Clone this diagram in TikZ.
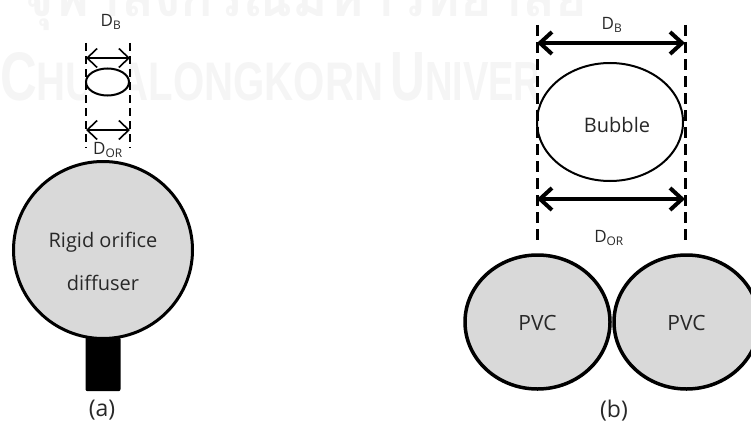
\documentclass[tikz,border=0pt]{standalone}
\usepackage{fontspec}
\setmainfont{Open Sans}
\newfontfamily\thaifont[Script=Thai]{Loma}
\newfontfamily\markfont{Liberation Sans}
\usetikzlibrary{arrows.meta, shapes.geometric, positioning}

\definecolor{pipegray}{RGB}{217,217,217}
\definecolor{inkgray}{RGB}{40,40,40}
\definecolor{markgray}{RGB}{245,245,245}

\tikzset{
  txt/.style={text=inkgray, inner sep=0pt, font=\fontsize{20}{24}\selectfont},
  pipe/.style={ellipse, draw, fill=pipegray, line width=3.5pt, inner sep=0pt},
  bubble/.style={ellipse, draw, fill=white, inner sep=0pt},
  guide/.style={dashed, dash pattern=on 11pt off 6pt},
  dim/.style={{Straight Barb[length=12pt,width=22pt]}-{Straight Barb[length=12pt,width=22pt]}},
  stamp/.style={text=markgray, inner sep=0pt, anchor=base west},
}

\begin{document}
\begin{tikzpicture}[x=1pt,y=-1pt]
\useasboundingbox (0,0) rectangle (751,428);

% faint background stamp
\node[stamp, font=\thaifont\bfseries\fontsize{60}{64}\selectfont] (stampth) at (22,17)
  {\resizebox{565pt}{!}{จุฬาลงกรณ์มหาวิทยาลัย}};
\node[stamp, font=\markfont\bfseries] (stampen) at (0,100)
  {\resizebox{383pt}{48pt}{{\fontsize{67}{70}\selectfont C}{\fontsize{53}{56}\selectfont HULALONGKORN}}};
\node[stamp, font=\markfont\bfseries] (stampen2) at (390,100)
  {\resizebox{236pt}{48pt}{{\fontsize{67}{70}\selectfont U}{\fontsize{53}{56}\selectfont NIVERSITY}}};
\fill[white] (86,40) rectangle (130,150);
\fill[white] (537,38) rectangle (685,245);

%% (a) rigid orifice diffuser
\node[pipe, line width=3pt, minimum width=179pt, minimum height=177pt] (diffuser) at (103,250) {};
\node[txt, align=center, font=\fontsize{20}{43}\selectfont] (difftxt) at ([yshift=-11pt]diffuser.center) {Rigid orifice\\diffuser};
\node[fill=black, rounded corners=2pt, minimum width=35pt, minimum height=54pt, inner sep=0pt, below=-3pt of diffuser.south] (stem) {};
\node[txt, font=\fontsize{23}{26}\selectfont] (capa) at (102,410) {(a)};

% small bubble and its guides
\node[bubble, line width=2pt, minimum width=43pt, minimum height=27pt] (smallbub) at (107.5,82) {};
\coordinate (aLtop) at (86,43);  \coordinate (aLbot) at (86,148);
\coordinate (aRtop) at (130,43); \coordinate (aRbot) at (130,148);
\draw[guide, line width=2.5pt, dash pattern=on 8pt off 5pt] (aLtop) -- (aLbot);
\draw[guide, line width=2.5pt, dash pattern=on 8pt off 5pt] (aRtop) -- (aRbot);
\coordinate (aB1) at (86,58);  \coordinate (aB2) at (130,58);
\coordinate (aO1) at (86,130); \coordinate (aO2) at (130,130);
\draw[dim, line width=1.6pt, {Straight Barb[length=10pt,width=19pt]}-{Straight Barb[length=10pt,width=19pt]}] (aB1) -- (aB2);
\draw[dim, line width=1.6pt, {Straight Barb[length=10pt,width=19pt]}-{Straight Barb[length=10pt,width=19pt]}] (aO1) -- (aO2);
\node[txt, font=\fontsize{17}{20}\selectfont] (aDB) at (111,22) {D\textsubscript{B}};
\node[txt, font=\fontsize{17}{20}\selectfont] (aDOR) at (108,150) {D\textsubscript{OR}};

%% (b) two PVC pipes
\node[pipe, minimum width=145pt, minimum height=134pt] (pvcL) at (537.5,322) {};
\node[pipe, minimum width=145pt, minimum height=134pt] (pvcR) at (686.5,322) {};
\node[txt, font=\fontsize{21}{24}\selectfont] (pvcLtxt) at ([yshift=-1pt]pvcL.center) {PVC};
\node[txt, font=\fontsize{21}{24}\selectfont] (pvcRtxt) at ([yshift=-1pt]pvcR.center) {PVC};
\node[txt, font=\fontsize{23}{26}\selectfont] (capb) at (614,411) {(b)};

% large bubble and its guides
\node[bubble, line width=2pt, minimum width=146pt, minimum height=118pt] (bigbub) at (610,122) {};
\node[txt] (bigbubtxt) at ([xshift=7pt,yshift=-3pt]bigbub.center) {Bubble};
\coordinate (bLtop) at (537,25); \coordinate (bLbot) at (537,245);
\coordinate (bRtop) at (685,25); \coordinate (bRbot) at (685,245);
\draw[guide, line width=3pt] (bLtop) -- (bLbot);
\draw[guide, line width=3pt] (bRtop) -- (bRbot);
\coordinate (bB1) at (537,43);  \coordinate (bB2) at (685,43);
\coordinate (bO1) at (537,199); \coordinate (bO2) at (685,199);
\draw[dim, line width=4pt] (bB1) -- (bB2);
\draw[dim, line width=4pt] (bO1) -- (bO2);
\node[txt, font=\fontsize{17}{20}\selectfont] (bDB) at (612,25) {D\textsubscript{B}};
\node[txt, font=\fontsize{17}{20}\selectfont] (bDOR) at (609,238) {D\textsubscript{OR}};
\end{tikzpicture}
\end{document}
